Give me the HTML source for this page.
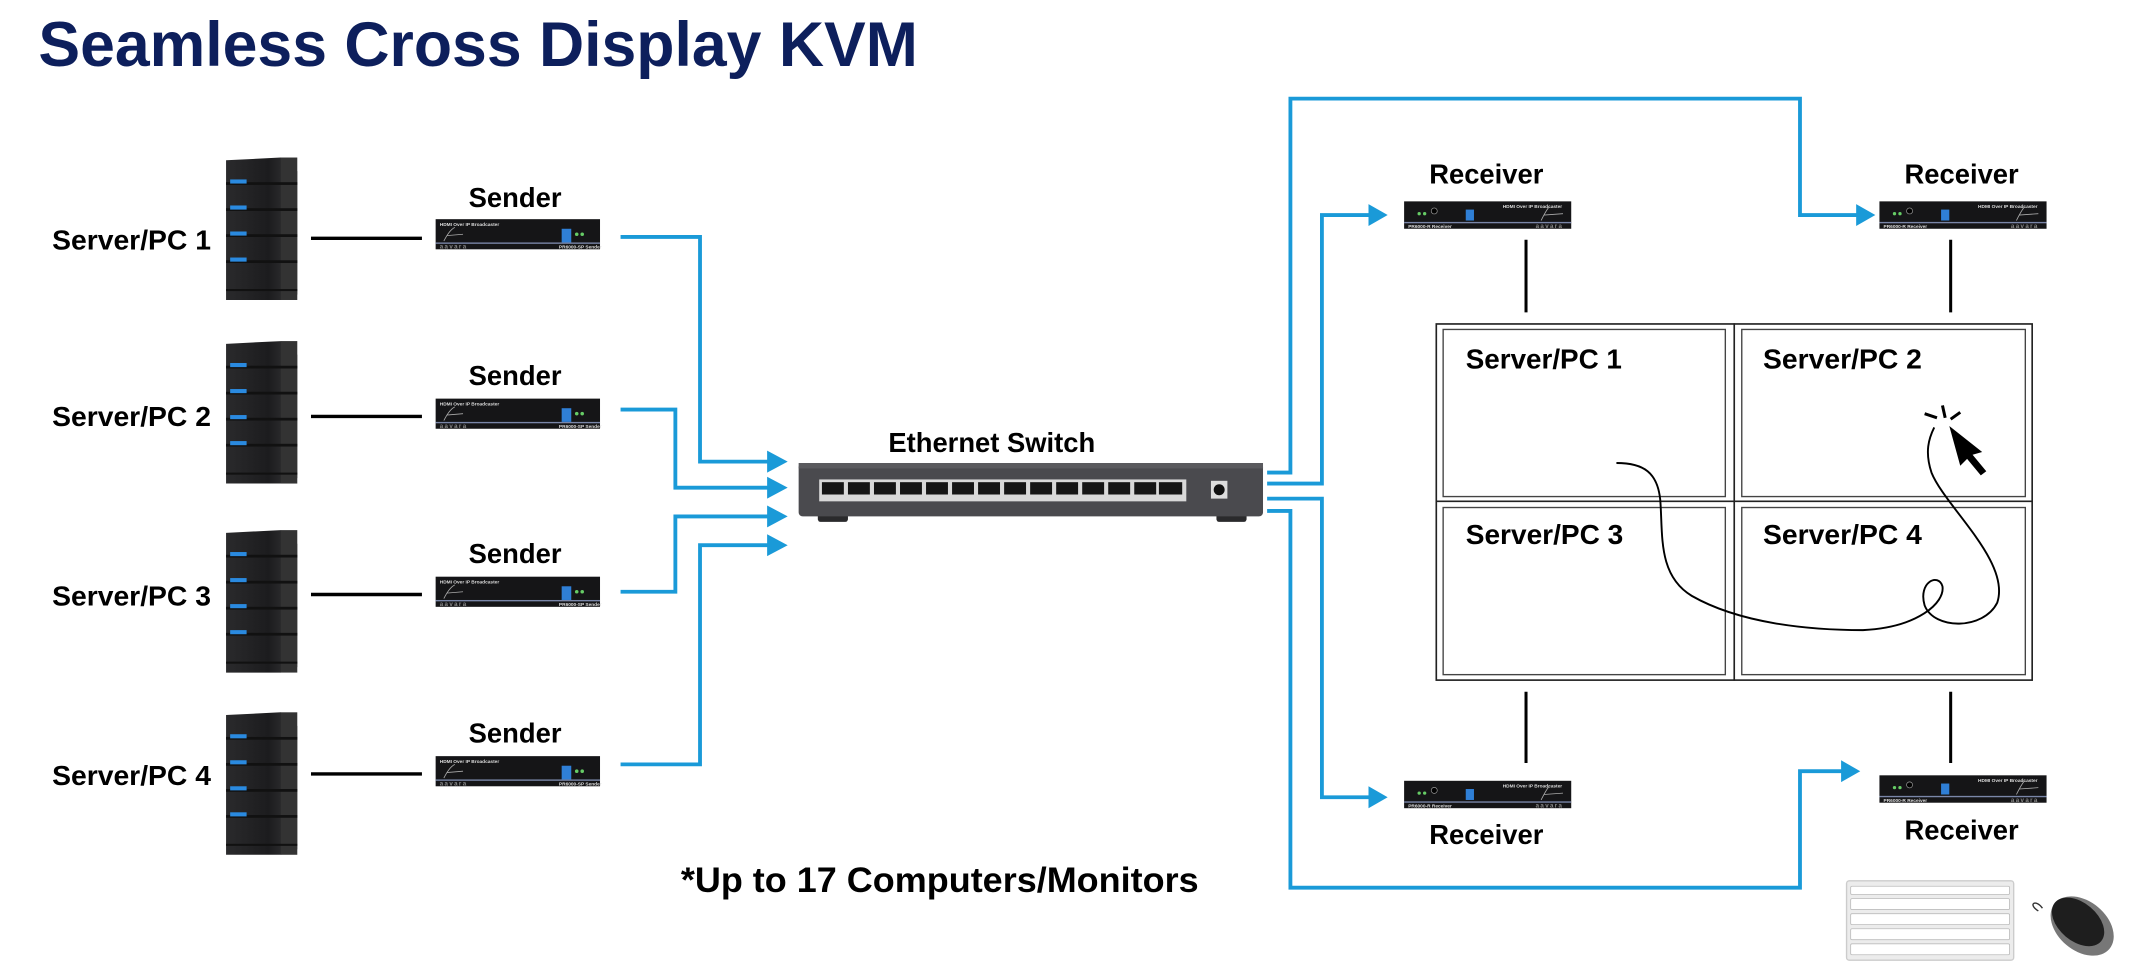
<!DOCTYPE html>
<html><head><meta charset="utf-8">
<style>
html,body{margin:0;padding:0;background:#fff;}
svg{display:block;}
text{font-family:"Liberation Sans Narrow","Liberation Sans",sans-serif;font-weight:bold;}
</style></head>
<body>
<svg width="2137" height="976" viewBox="0 0 1560 712.5" xmlns="http://www.w3.org/2000/svg">
<defs>
  <linearGradient id="tw" x1="0" x2="1">
    <stop offset="0" stop-color="#2a2a2c"/><stop offset="0.6" stop-color="#1c1c1e"/><stop offset="1" stop-color="#3a3a3c"/>
  </linearGradient>
  <g id="tower">
    <path d="M0 2 L40 0 L52 10 L52 100 L40 104 L0 104 Z" fill="url(#tw)"/>
    <rect x="40" y="0" width="12" height="104" fill="#333"/>
    <g fill="#111">
      <rect x="0" y="18" width="52" height="2"/><rect x="0" y="37" width="52" height="2"/>
      <rect x="0" y="56" width="52" height="2"/><rect x="0" y="75" width="52" height="2"/>
      <rect x="0" y="96" width="52" height="1.5"/>
    </g>
    <g fill="#2a8ae0">
      <rect x="3" y="16" width="12" height="3"/><rect x="3" y="35" width="12" height="3"/>
      <rect x="3" y="54" width="12" height="3"/><rect x="3" y="73" width="12" height="3"/>
    </g>
  </g>
  <g id="sender">
    <rect x="0" y="0" width="120" height="22" fill="#151517"/>
    <rect x="0" y="17" width="120" height="1" fill="#7a86a8"/>
    <text x="3" y="5" font-size="3.5" fill="#ddd">HDMI Over IP Broadcaster</text>
    <path d="M6 16 Q10 8 14 6 M8 12 L20 11" stroke="#aaa" stroke-width="0.6" fill="none"/>
    <text x="3" y="21.5" font-size="4.5" fill="#888" font-weight="normal" letter-spacing="1">aavara</text>
    <rect x="92" y="7" width="7" height="10" fill="#2f7fd6"/>
    <circle cx="103" cy="11" r="1.3" fill="#6c6"/><circle cx="107" cy="11" r="1.3" fill="#6c6"/>
    <text x="90" y="21.5" font-size="3.5" fill="#ddd">PR6000-SP Sender</text>
  </g>
  <g id="receiver">
    <rect x="0" y="0" width="122" height="20" fill="#151517"/>
    <rect x="0" y="15" width="122" height="1" fill="#7a86a8"/>
    <circle cx="11" cy="9" r="1.2" fill="#6c6"/><circle cx="15" cy="9" r="1.2" fill="#6c6"/>
    <circle cx="22" cy="7" r="2.2" fill="#000" stroke="#999" stroke-width="0.5"/>
    <rect x="45" y="6" width="6" height="8" fill="#2f7fd6"/>
    <text x="72" y="5" font-size="3.5" fill="#ddd">HDMI Over IP Broadcaster</text>
    <path d="M100 14 Q104 6 106 4 M102 10 L116 9" stroke="#aaa" stroke-width="0.6" fill="none"/>
    <text x="96" y="19.5" font-size="4.5" fill="#888" font-weight="normal" letter-spacing="1">aavara</text>
    <text x="3" y="19.5" font-size="3.5" fill="#ddd">PR6000-R Receiver</text>
  </g>
</defs>

<text x="28" y="48" font-size="46" fill="#0d1f5c" textLength="642" lengthAdjust="spacingAndGlyphs">Seamless Cross Display KVM</text>

<!-- servers -->
<g font-size="20" fill="#000">
  <text x="38" y="182" textLength="116" lengthAdjust="spacingAndGlyphs">Server/PC 1</text>
  <text x="38" y="311" textLength="116" lengthAdjust="spacingAndGlyphs">Server/PC 2</text>
  <text x="38" y="442" textLength="116" lengthAdjust="spacingAndGlyphs">Server/PC 3</text>
  <text x="38" y="573" textLength="116" lengthAdjust="spacingAndGlyphs">Server/PC 4</text>
</g>
<use href="#tower" x="165" y="115"/>
<use href="#tower" x="165" y="249"/>
<use href="#tower" x="165" y="387"/>
<use href="#tower" x="165" y="520"/>
<g stroke="#000" stroke-width="2.5">
  <line x1="227" y1="174" x2="308" y2="174"/><line x1="227" y1="304" x2="308" y2="304"/>
  <line x1="227" y1="434" x2="308" y2="434"/><line x1="227" y1="565" x2="308" y2="565"/>
</g>
<g font-size="20" fill="#000" text-anchor="middle">
  <text x="376" y="151">Sender</text><text x="376" y="281">Sender</text>
  <text x="376" y="411">Sender</text><text x="376" y="542">Sender</text>
</g>
<use href="#sender" x="318" y="160"/>
<use href="#sender" x="318" y="291"/>
<use href="#sender" x="318" y="421"/>
<use href="#sender" x="318" y="552"/>

<!-- blue connectors -->
<g stroke="#1a9ad8" stroke-width="2.8" fill="none">
  <polyline points="453,173 511,173 511,337 562,337"/>
  <polyline points="453,299 493,299 493,356 562,356"/>
  <polyline points="453,432 493,432 493,377 562,377"/>
  <polyline points="453,558 511,558 511,398 562,398"/>
  <polyline points="925,345 942,345 942,72 1314,72 1314,157 1358,157"/>
  <polyline points="925,353 965,353 965,157 1001,157"/>
  <polyline points="925,364 965,364 965,582 1001,582"/>
  <polyline points="925,373 942,373 942,648 1314,648 1314,563 1346,563"/>
</g>
<g fill="#1a9ad8">
  <polygon points="560,329 575,337 560,345"/><polygon points="560,348 575,356 560,364"/>
  <polygon points="560,369 575,377 560,385"/><polygon points="560,390 575,398 560,406"/>
  <polygon points="999,149 1013,157 999,165"/><polygon points="1355,149 1369,157 1355,165"/>
  <polygon points="999,574 1013,582 999,590"/><polygon points="1344,555 1358,563 1344,571"/>
</g>

<!-- switch -->
<text x="724" y="330" font-size="20" fill="#000" text-anchor="middle">Ethernet Switch</text>
<rect x="597" y="372" width="22" height="9" rx="2" fill="#2a2a2c"/>
<rect x="888" y="372" width="22" height="9" rx="2" fill="#2a2a2c"/>
<rect x="583" y="338" width="339" height="39" rx="3" fill="#4a4a4e"/>
<rect x="583" y="338" width="339" height="4" fill="#5a5a5e"/>
<rect x="598" y="350" width="268" height="16" fill="#d8d8d8"/>
<g fill="#151515">
  <rect x="824" y="350" width="0" height="0"/>
</g>
<g fill="#151515" id="ports">
  <rect x="600" y="352" width="16" height="9"/><rect x="619" y="352" width="16" height="9"/>
  <rect x="638" y="352" width="16" height="9"/><rect x="657" y="352" width="16" height="9"/>
  <rect x="676" y="352" width="16" height="9"/><rect x="695" y="352" width="16" height="9"/>
  <rect x="714" y="352" width="16" height="9"/><rect x="733" y="352" width="16" height="9"/>
  <rect x="752" y="352" width="16" height="9"/><rect x="771" y="352" width="16" height="9"/>
  <rect x="790" y="352" width="16" height="9"/><rect x="809" y="352" width="16" height="9"/>
  <rect x="828" y="352" width="16" height="9"/><rect x="846" y="352" width="17" height="9"/>
</g>
<rect x="884" y="351" width="12" height="13" fill="#ddd"/>
<circle cx="890" cy="357.5" r="4" fill="#111"/>

<!-- receivers -->
<g font-size="20" fill="#000" text-anchor="middle">
  <text x="1085" y="134">Receiver</text><text x="1432" y="134">Receiver</text>
  <text x="1085" y="616">Receiver</text><text x="1432" y="613">Receiver</text>
</g>
<use href="#receiver" x="1025" y="147"/>
<use href="#receiver" x="1372" y="147"/>
<use href="#receiver" x="1025" y="570"/>
<use href="#receiver" x="1372" y="566"/>
<g stroke="#000" stroke-width="2.2">
  <line x1="1114" y1="175" x2="1114" y2="228"/><line x1="1424" y1="175" x2="1424" y2="228"/>
  <line x1="1114" y1="505" x2="1114" y2="557"/><line x1="1424" y1="505" x2="1424" y2="557"/>
</g>

<!-- video wall -->
<rect x="1048.5" y="236.5" width="435" height="260" fill="#fff" stroke="#222" stroke-width="1.2"/>
<line x1="1266" y1="236" x2="1266" y2="497" stroke="#222" stroke-width="1.2"/>
<line x1="1048" y1="366" x2="1484" y2="366" stroke="#222" stroke-width="1.2"/>
<g fill="none" stroke="#444" stroke-width="1">
  <rect x="1053.5" y="240.5" width="206" height="122"/>
  <rect x="1271.5" y="240.5" width="207" height="122"/>
  <rect x="1053.5" y="370.5" width="206" height="122"/>
  <rect x="1271.5" y="370.5" width="207" height="122"/>
</g>
<g font-size="20" fill="#000">
  <text x="1070" y="269" textLength="114" lengthAdjust="spacingAndGlyphs">Server/PC 1</text>
  <text x="1287" y="269" textLength="116" lengthAdjust="spacingAndGlyphs">Server/PC 2</text>
  <text x="1070" y="397" textLength="115" lengthAdjust="spacingAndGlyphs">Server/PC 3</text>
  <text x="1287" y="397" textLength="116" lengthAdjust="spacingAndGlyphs">Server/PC 4</text>
</g>
<path d="M1180 338 C1200 338 1210 345 1212 365 C1214 390 1210 420 1235 435 C1270 455 1320 460 1360 460 C1400 458 1420 440 1418 428 C1415 418 1400 425 1405 442 C1412 460 1448 460 1458 440 C1468 410 1420 370 1410 345 C1405 330 1408 320 1412 312" fill="none" stroke="#000" stroke-width="1.4"/>
<polygon points="1423,311 1447,330 1440,332 1450,344 1446,347 1436,335 1431,340" fill="#000"/>
<g stroke="#000" stroke-width="2.2">
  <line x1="1418" y1="296" x2="1420" y2="305"/><line x1="1405" y1="302" x2="1414" y2="305"/>
  <line x1="1424" y1="306" x2="1431" y2="301"/>
</g>

<text x="497" y="651" font-size="26" fill="#000" textLength="378" lengthAdjust="spacingAndGlyphs">*Up to 17 Computers/Monitors</text>

<!-- keyboard -->
<rect x="1348" y="643" width="122" height="58" rx="2" fill="#ececec" stroke="#ccc"/>
<g fill="#fff" stroke="#bbb" stroke-width="0.6">
  <rect x="1351" y="647" width="116" height="6" rx="1"/>
  <rect x="1351" y="656" width="116" height="8" rx="1"/>
  <rect x="1351" y="667" width="116" height="8" rx="1"/>
  <rect x="1351" y="678" width="116" height="8" rx="1"/>
  <rect x="1351" y="689" width="116" height="8" rx="1"/>
</g>
<!-- mouse -->
<path d="M1491 663 C1486 656 1480 660 1488 665" stroke="#333" fill="none"/>
<ellipse cx="1520" cy="676" rx="26" ry="18" transform="rotate(40 1520 676)" fill="#777"/>
<ellipse cx="1517" cy="673" rx="22" ry="14" transform="rotate(40 1517 673)" fill="#1e1e1e"/>
</svg>
</body></html>
